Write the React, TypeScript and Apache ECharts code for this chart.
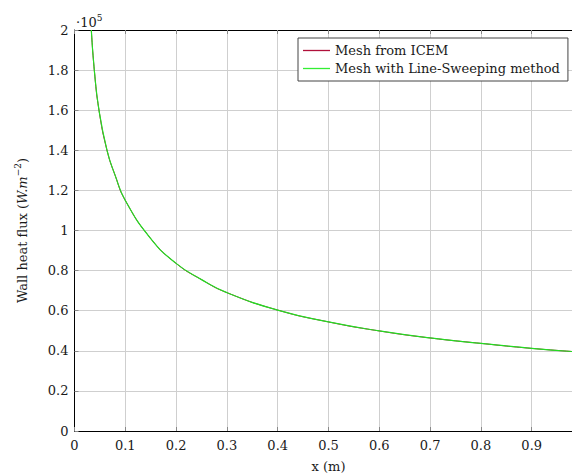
import React, { useEffect, useRef } from "react";
import * as echarts from "echarts";

const positions = [0.0331, 0.039, 0.0482, 0.064, 0.08, 0.1, 0.15, 0.2, 0.25, 0.3, 0.4, 0.5, 0.6, 0.7, 0.8, 0.9, 1.0];
const icemFlux = [200000, 180000, 160000, 140000, 127500, 115000, 96000, 83600, 75500, 69000, 60300, 54400, 49900, 46400, 43700, 41200, 39300];
const sweepFlux = [200000, 180000, 160000, 140000, 127500, 115000, 96000, 83600, 75500, 69000, 60300, 54400, 49900, 46400, 43700, 41200, 39300];
const seriesNames = ["Mesh from ICEM", "Mesh with Line-Sweeping method"];
const xTitle = "x (m)";

const FONT = "DejaVu Serif";
const TXT = "#1a1a1a";

export default function App() {
  const ref = useRef<HTMLDivElement>(null);
  useEffect(() => {
    if (!ref.current) return;
    const chart = echarts.init(ref.current, null, { renderer: "svg" });
    const pairs = (ys: number[]) => positions.map((x, i) => [x, ys[i]]);
    const gridLine = { show: true, lineStyle: { color: "#cfcfcf", width: 1 } };
    const tick = { show: true, inside: true, length: 4, lineStyle: { color: "#888" } };
    chart.setOption({
      animation: false,
      textStyle: { fontFamily: FONT },
      grid: { left: 66.5, top: 22, right: 25.5, bottom: 42, containLabel: false, outerBoundsMode: "none" },
      legend: {
        orient: "vertical",
        left: 290,
        top: 30,
        align: "left",
        padding: [6, 8, 6, 5],
        itemGap: 5,
        itemWidth: 27,
        itemHeight: 14,
        icon: "path://M0,0L27,0L27,1.3L0,1.3Z",
        borderColor: "#444",
        borderWidth: 1,
        backgroundColor: "#fff",
        textStyle: { fontFamily: FONT, fontSize: 13, color: TXT },
        data: seriesNames,
      },
      xAxis: [
        {
          type: "value",
          min: 0,
          max: 1,
          interval: 0.1,
          name: xTitle,
          nameLocation: "middle",
          nameGap: 29,
          nameTextStyle: { fontFamily: FONT, fontSize: 13, color: TXT },
          axisLine: { show: true, onZero: false, lineStyle: { color: "#000", width: 1 } },
          axisTick: tick,
          splitLine: gridLine,
          axisLabel: { fontFamily: FONT, fontSize: 13, color: TXT, margin: 8 },
        },
        {
          type: "value",
          position: "top",
          min: 0,
          max: 1,
          interval: 0.1,
          axisLine: { show: true, onZero: false, lineStyle: { color: "#000", width: 1 } },
          axisTick: tick,
          splitLine: { show: false },
          axisLabel: { show: false },
        },
      ],
      yAxis: [
        {
          type: "value",
          min: 0,
          max: 200000,
          interval: 20000,
          name: "Wall heat flux ({i|W.m}{s|−2})",
          nameLocation: "middle",
          nameGap: 43.5,
          nameRotate: 90,
          nameTextStyle: {
            fontFamily: FONT,
            fontSize: 13,
            color: TXT,
            rich: {
              i: { fontFamily: FONT, fontSize: 13, fontStyle: "italic", color: TXT },
              s: { fontFamily: FONT, fontSize: 9, color: TXT, verticalAlign: "top", lineHeight: 18 },
            },
          },
          axisLine: { show: true, onZero: false, lineStyle: { color: "#000", width: 1 } },
          axisTick: tick,
          splitLine: gridLine,
          axisLabel: {
            fontFamily: FONT,
            fontSize: 13,
            color: TXT,
            margin: 6,
            formatter: (v: number) => String(Math.round((v / 100000) * 10) / 10),
          },
        },
        {
          type: "value",
          position: "right",
          min: 0,
          max: 200000,
          interval: 20000,
          axisLine: { show: true, onZero: false, lineStyle: { color: "#000", width: 1 } },
          axisTick: tick,
          splitLine: { show: false },
          axisLabel: { show: false },
        },
      ],
      graphic: [
        {
          type: "text",
          left: 68,
          top: 5,
          style: {
            text: "·10{s|5}",
            fontFamily: FONT,
            fontSize: 13,
            fill: TXT,
            rich: { s: { fontFamily: FONT, fontSize: 9, fill: TXT, verticalAlign: "top", lineHeight: 18 } },
          },
        },
      ],
      series: [
        {
          name: seriesNames[0],
          type: "line",
          data: pairs(icemFlux),
          symbol: "none",
          smooth: 0.5,
          lineStyle: { color: "#b0103a", width: 1 },
          itemStyle: { color: "#b0103a" },
        },
        {
          name: seriesNames[1],
          type: "line",
          data: pairs(sweepFlux),
          symbol: "none",
          smooth: 0.5,
          lineStyle: { color: "#22dd22", width: 1.2 },
          itemStyle: { color: "#33ee33" },
        },
      ],
    });
    return () => chart.dispose();
  }, []);
  return (
    <div style={{ width: 572, height: 465, overflow: "hidden" }}>
      <div ref={ref} style={{ width: 600, height: 465 }} />
    </div>
  );
}
